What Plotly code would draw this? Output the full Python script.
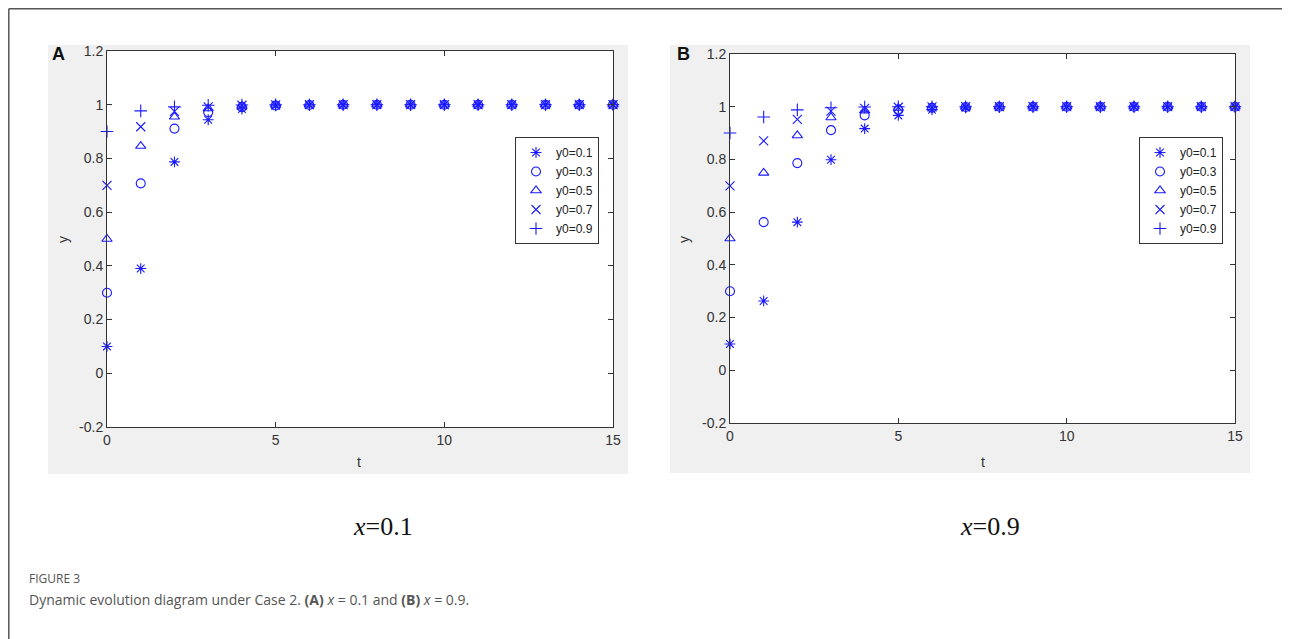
import plotly.graph_objects as go

t = list(range(16))
labels = ["y0=0.1", "y0=0.3", "y0=0.5", "y0=0.7", "y0=0.9"]
symbols = ["asterisk-open", "circle-open", "triangle-up-open", "x-thin-open", "cross-thin-open"]

a_y01 = [0.1, 0.39, 0.787, 0.944, 0.984, 0.996, 0.999, 1.0, 1.0, 1.0, 1.0, 1.0, 1.0, 1.0, 1.0, 1.0]
a_y03 = [0.3, 0.707, 0.911, 0.972, 0.991, 0.997, 0.999, 1.0, 1.0, 1.0, 1.0, 1.0, 1.0, 1.0, 1.0, 1.0]
a_y05 = [0.5, 0.846, 0.955, 0.986, 0.996, 0.999, 1.0, 1.0, 1.0, 1.0, 1.0, 1.0, 1.0, 1.0, 1.0, 1.0]
a_y07 = [0.7, 0.918, 0.975, 0.992, 0.998, 0.999, 1.0, 1.0, 1.0, 1.0, 1.0, 1.0, 1.0, 1.0, 1.0, 1.0]
a_y09 = [0.9, 0.977, 0.992, 0.998, 0.999, 1.0, 1.0, 1.0, 1.0, 1.0, 1.0, 1.0, 1.0, 1.0, 1.0, 1.0]

b_y01 = [0.1, 0.263, 0.562, 0.799, 0.917, 0.967, 0.988, 0.996, 0.999, 1.0, 1.0, 1.0, 1.0, 1.0, 1.0, 1.0]
b_y03 = [0.3, 0.562, 0.786, 0.911, 0.967, 0.988, 0.996, 0.999, 1.0, 1.0, 1.0, 1.0, 1.0, 1.0, 1.0, 1.0]
b_y05 = [0.5, 0.749, 0.891, 0.959, 0.985, 0.995, 0.998, 0.999, 1.0, 1.0, 1.0, 1.0, 1.0, 1.0, 1.0, 1.0]
b_y07 = [0.7, 0.870, 0.952, 0.983, 0.994, 0.998, 0.999, 1.0, 1.0, 1.0, 1.0, 1.0, 1.0, 1.0, 1.0, 1.0]
b_y09 = [0.9, 0.961, 0.988, 0.996, 0.999, 1.0, 1.0, 1.0, 1.0, 1.0, 1.0, 1.0, 1.0, 1.0, 1.0, 1.0]

y_ticks = [-0.2, 0, 0.2, 0.4, 0.6, 0.8, 1.0, 1.2]
y_ticktext = ["-0.2", "0", "0.2", "0.4", "0.6", "0.8", "1", "1.2"]
x_ticks = [0, 5, 10, 15]

W, H = 1290, 639
OFF = 8  # page body margin
BLUE = "#1a1aff"

def px(x):
    return (x - OFF) / W

def py(y):
    return 1 - (y - OFF) / H

fig = go.Figure()

for ys, lab, sym in zip([a_y01, a_y03, a_y05, a_y07, a_y09], labels, symbols):
    fig.add_trace(go.Scatter(x=t, y=ys, mode="markers", name=lab, xaxis="x", yaxis="y",
                             legend="legend", cliponaxis=False,
                             marker=dict(symbol=sym, size=9, color=BLUE, line=dict(color=BLUE, width=1.1))))
for ys, lab, sym in zip([b_y01, b_y03, b_y05, b_y07, b_y09], labels, symbols):
    fig.add_trace(go.Scatter(x=t, y=ys, mode="markers", name=lab, xaxis="x2", yaxis="y2",
                             legend="legend2", cliponaxis=False,
                             marker=dict(symbol=sym, size=9, color=BLUE, line=dict(color=BLUE, width=1.1))))

axis_common = dict(showline=True, linecolor="#333", linewidth=1, mirror="ticks", ticks="inside",
                   ticklen=5, tickcolor="#333", showgrid=False, zeroline=False,
                   tickfont=dict(family="Liberation Sans, Arial", size=14, color="#333"))

legend_font = dict(family="Liberation Sans, Arial", size=12, color="#222")

fig.update_layout(
    width=W, height=H, margin=dict(l=0, r=0, t=0, b=0, pad=0, autoexpand=False),
    paper_bgcolor="white", plot_bgcolor="white", showlegend=True,
    xaxis=dict(domain=[px(107), px(613)], range=[0, 15], tickvals=x_ticks, anchor="y", **axis_common),
    yaxis=dict(domain=[py(427), py(51)], range=[-0.2, 1.2], tickvals=y_ticks, ticktext=y_ticktext,
               anchor="x", **axis_common),
    xaxis2=dict(domain=[px(730), px(1235)], range=[0, 15], tickvals=x_ticks, anchor="y2", **axis_common),
    yaxis2=dict(domain=[py(423), py(54)], range=[-0.2, 1.2], tickvals=y_ticks, ticktext=y_ticktext,
                anchor="x2", **axis_common),
    legend=dict(x=px(599), y=py(137), xanchor="right", yanchor="top", bgcolor="white",
                bordercolor="#333", borderwidth=1, tracegroupgap=0, itemwidth=30, font=legend_font),
    legend2=dict(x=px(1223), y=py(137), xanchor="right", yanchor="top", bgcolor="white",
                 bordercolor="#333", borderwidth=1, tracegroupgap=0, itemwidth=30, font=legend_font),
)

shapes = [
    dict(type="rect", xref="paper", yref="paper", x0=px(48), x1=px(628), y0=py(474), y1=py(45),
         fillcolor="#f0f0f0", line=dict(width=0), layer="below"),
    dict(type="rect", xref="paper", yref="paper", x0=px(670), x1=px(1250), y0=py(473), y1=py(45),
         fillcolor="#f0f0f0", line=dict(width=0), layer="below"),
    dict(type="rect", xref="x domain", yref="y domain", x0=0, x1=1, y0=0, y1=1,
         fillcolor="white", line=dict(width=0), layer="below"),
    dict(type="rect", xref="x2 domain", yref="y2 domain", x0=0, x1=1, y0=0, y1=1,
         fillcolor="white", line=dict(width=0), layer="below"),
    dict(type="line", xref="paper", yref="paper", x0=px(8.8), x1=1, y0=py(8.8), y1=py(8.8),
         line=dict(color="#555", width=1.5)),
    dict(type="line", xref="paper", yref="paper", x0=px(8.8), x1=px(8.8), y0=py(8.8), y1=0,
         line=dict(color="#555", width=1.5)),
]
fig.update_layout(shapes=shapes)

ann = []
def add_text(x, y, text, size, family="Liberation Sans, Arial", color="#333", angle=0, xanchor="center"):
    ann.append(dict(xref="paper", yref="paper", x=px(x), y=py(y), text=text, showarrow=False,
                    xanchor=xanchor, yanchor="middle", textangle=angle,
                    font=dict(family=family, size=size, color=color)))

add_text(58, 54, "<b>A</b>", 18, color="#111")
add_text(683, 54, "<b>B</b>", 18, color="#111")
add_text(63, 240, "y", 14, angle=-90)
add_text(684, 240, "y", 14, angle=-90)
add_text(359, 462, "t", 14)
add_text(983, 462, "t", 14)
add_text(383, 526, "<i>x</i>=0.1", 26, family="Liberation Serif, Times New Roman", color="#111")
add_text(990, 526, "<i>x</i>=0.9", 26, family="Liberation Serif, Times New Roman", color="#111")
add_text(27, 578, "FIGURE 3", 12, family="Open Sans", color="#555", xanchor="left")
add_text(27, 599, "Dynamic evolution diagram under Case 2. <b>(A)</b> <i>x</i> = 0.1 and <b>(B)</b> <i>x</i> = 0.9.",
         14, family="Open Sans", color="#555", xanchor="left")
fig.update_layout(annotations=ann)

fig.write_html("out.html")
